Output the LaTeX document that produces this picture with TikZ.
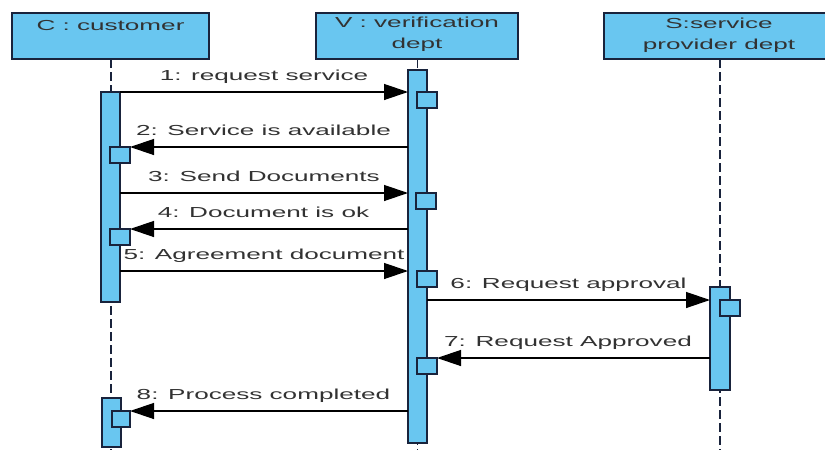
\documentclass[tikz,border=0pt]{standalone}
\usepackage{fontspec}
\setmainfont[FakeStretch=1.8]{Liberation Sans}
\usetikzlibrary{arrows.meta}
\definecolor{actfill}{RGB}{105,198,240}
\definecolor{edgecol}{RGB}{25,35,60}
\definecolor{txtcol}{RGB}{50,50,50}
\begin{document}
\begin{tikzpicture}[x=1pt,y=-1pt,
  every node/.style={inner sep=0pt, outer sep=0pt},
  headbox/.style={draw=edgecol, line width=1.5pt, fill=actfill, minimum height=46pt},
  headtxt/.style={anchor=north, align=center, text=txtcol, font=\fontsize{14.5}{21}\selectfont},
  actbar/.style={draw=edgecol, line width=1.4pt, fill=actfill, minimum width=19pt},
  smallbox/.style={draw=edgecol, line width=1.4pt, fill=actfill, minimum width=20pt, minimum height=16pt, anchor=north west},
  lifeline/.style={draw=edgecol, line width=1.6pt, dash pattern=on 9pt off 4pt},
  msg/.style={draw=black, line width=1.3pt, -{Triangle[length=24pt,width=16pt]}},
  lbl/.style={text=txtcol, font=\fontsize{14.5}{17}\selectfont, anchor=base, yshift=11.5pt}
]
\useasboundingbox (0,0) rectangle (825,450);
\clip (0,0) rectangle (825,450);
\fill[white] (0,0) rectangle (825,450);

% headers
\node[headbox, minimum width=197pt] (hC) at (110.5,36) {};
\node[headbox, minimum width=202pt] (hV) at (417,36) {};
\node[headbox, minimum width=232pt] (hS) at (720,36) {};
\node[headtxt] (tC) at (110.5,20) {C : customer};
\node[headtxt] (tV) at (417,17) {V : verification\\dept};
\node[headtxt] (tS) at (719,18) {S:service\\provider dept};

% lifeline ends
\coordinate (eC) at (111,450);
\coordinate (eV) at (417.5,450);
\coordinate (eS) at (720,450);
\draw[lifeline] (hC.south -| eC) -- (eC);
\draw[lifeline] (hV.south -| eV) -- (eV);
\draw[lifeline] (hS.south -| eS) -- (eS);

% activation bars
\node[actbar, minimum height=210pt] (aC1) at (110.5,197) {};
\node[actbar, minimum height=49pt] (aC2) at (111.5,422.5) {};
\node[actbar, minimum height=373pt] (aV) at (417.5,256.5) {};
\node[actbar, minimum width=20pt, minimum height=103pt] (aS) at (720,338.5) {};

% small execution boxes
\node[smallbox] (sV1) at (417,92) {};
\node[smallbox] (sC2) at (110,147) {};
\node[smallbox] (sV3) at (416,193) {};
\node[smallbox] (sC4) at (110,229) {};
\node[smallbox] (sV5) at (417,271) {};
\node[smallbox] (sS6) at (720,300) {};
\node[smallbox] (sV7) at (417,358) {};
\node[smallbox, minimum width=18pt] (sC8) at (112,411) {};

% messages
\draw[msg] (aC1.east |- sV1.north west) -- (aV.west |- sV1.north west)
  node[lbl, midway] {1: request service};
\draw[msg] (aV.west |- sC2.north east) -- (sC2.north east)
  node[lbl, pos=0.52] {2: Service is available};
\draw[msg] (aC1.east |- sV3.north west) -- (aV.west |- sV3.north west)
  node[lbl, midway] {3: Send Documents};
\draw[msg] (aV.west |- sC4.north east) -- (sC4.north east)
  node[lbl, pos=0.52] {4: Document is ok};
\draw[msg] (aC1.east |- sV5.north west) -- (aV.west |- sV5.north west)
  node[lbl, midway] {5: Agreement document};
\draw[msg] (aV.east |- sS6.north west) -- (aS.west |- sS6.north west)
  node[lbl, midway] {6: Request approval};
\draw[msg] (aS.west |- sV7.north east) -- (sV7.north east)
  node[lbl, pos=0.52] {7: Request Approved};
\draw[msg] (aV.west |- sC8.north east) -- (sC8.north east)
  node[lbl, pos=0.52] {8: Process completed};
\end{tikzpicture}
\end{document}
